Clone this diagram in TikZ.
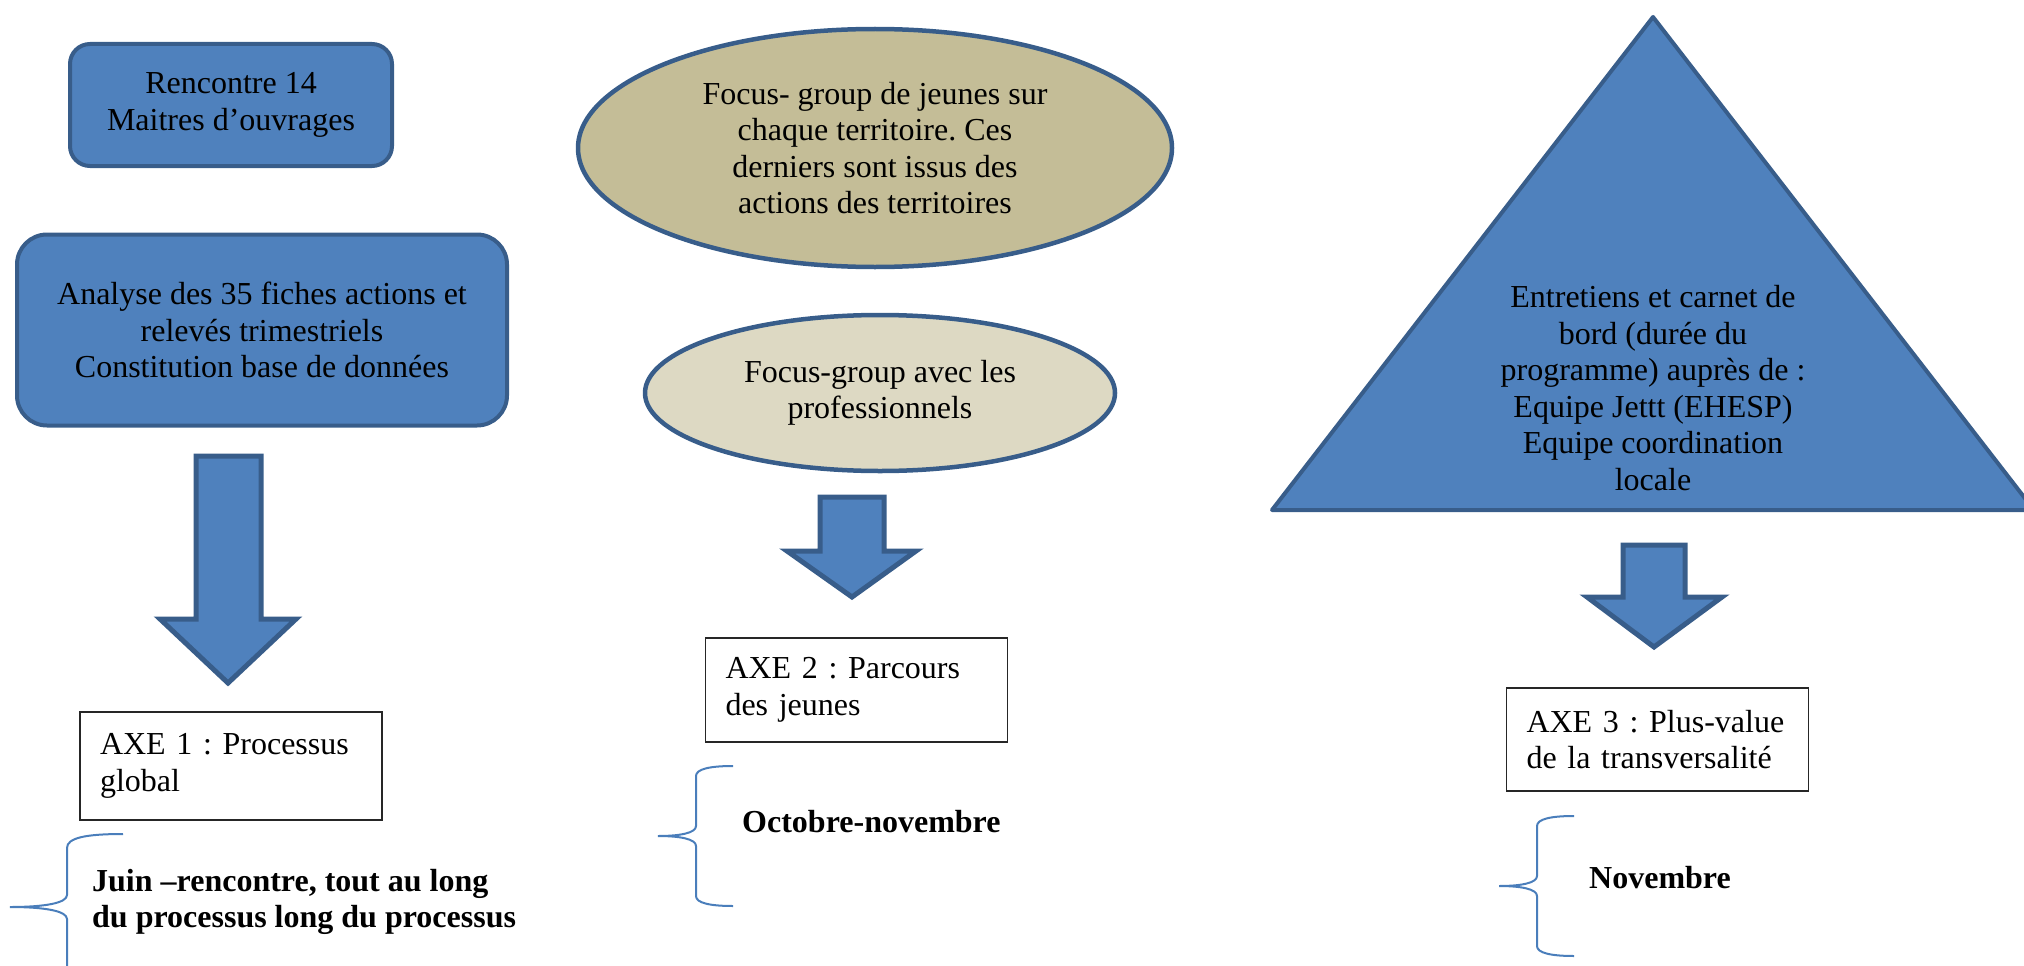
\documentclass[tikz,border=0pt]{standalone}
\usepackage{fontspec}
\setmainfont{Liberation Serif}
\usetikzlibrary{shapes.geometric}
\definecolor{bfill}{HTML}{4F81BD}
\definecolor{bdraw}{HTML}{385D8A}
\definecolor{tanA}{HTML}{C4BD97}
\definecolor{tanB}{HTML}{DDD9C3}
\definecolor{brc}{HTML}{4A7EBB}
\frenchspacing
\begin{document}
\begin{tikzpicture}[x=1pt,y=-1pt,
  every node/.style={font=\fontsize{32}{36.5}\selectfont},
  bluebox/.style={draw=bdraw, fill=bfill, line width=4pt, rounded corners=#1, align=center, inner sep=0pt},
  ovalbox/.style={ellipse, draw=bdraw, line width=4.5pt, align=center, inner sep=0pt},
  blockarrow/.style={draw=bdraw, fill=bfill, line width=5pt, line join=miter},
  axebox/.style={draw=black!85, line width=1.5pt, align=left, inner xsep=20pt, inner ysep=0pt, text width=262pt, minimum height=#1},
  bracestyle/.style={draw=brc, line width=2pt},
  datetext/.style={font=\fontsize{32}{36.5}\selectfont\bfseries, align=left, inner sep=0pt, anchor=west}
]
\useasboundingbox (0,0) rectangle (2024,966);
\clip (0,0) rectangle (2024,966);

% column 1
\node[bluebox=20pt, minimum width=322pt, minimum height=122pt] (r1) at (231,105) {Rencontre 14\\Maitres d’ouvrages};
\node[bluebox=30pt, minimum width=490pt, minimum height=191pt] (r2) at (262,330) {Analyse des 35 fiches actions et\\relevés trimestriels\\Constitution base de données};
\draw[blockarrow] (196,456) -- (261,456) -- (261,619) -- (296,619) -- (228,683) -- (160,619) -- (196,619) -- cycle;
\node[axebox=108pt] (a1) at (231,766) {AXE 1 : Processus\\global};
\draw[bracestyle] (123,834) .. controls (85,834) and (67,838) .. (67,848) -- (67,895) .. controls (67,903) and (45,907) .. (10,907) .. controls (45,907) and (67,911) .. (67,919) -- (67,966) .. controls (67,976) and (85,980) .. (123,980);
\node[datetext] (d1) at (92,902) {Juin –rencontre, tout au long\\du processus long du processus};

% column 2
\node[ovalbox, fill=tanA, minimum width=594pt, minimum height=238pt] (e1) at (875,148) {Focus- group de jeunes sur\\chaque territoire. Ces\\derniers sont issus des\\actions des territoires};
\node[ovalbox, fill=tanB, minimum width=470pt, minimum height=156pt] (e2) at (880,393) {Focus-group avec les\\professionnels};
\draw[blockarrow] (820,497) -- (884,497) -- (884,551) -- (916,551) -- (852,597) -- (787,551) -- (820,551) -- cycle;
\node[axebox=104pt] (a2) at (856.5,690) {AXE 2 : Parcours\\des jeunes};
\draw[bracestyle] (733,766) .. controls (710,766) and (696,769) .. (696,776) -- (696,826) .. controls (696,833) and (680,836) .. (658,836) .. controls (680,836) and (696,839) .. (696,846) -- (696,896) .. controls (696,903) and (710,906) .. (733,906);
\node[datetext] (d2) at (742,822) {Octobre-novembre};

% column 3
\draw[draw=bdraw, fill=bfill, line width=4pt, line join=round] (1653,17) -- (2034,510) -- (1272,510) -- cycle;
\node[align=center, inner sep=0pt] (t3) at (1653,388) {Entretiens et carnet de\\bord (durée du\\programme) auprès de :\\Equipe Jettt (EHESP)\\Equipe coordination\\locale};
\draw[blockarrow] (1623,545) -- (1685,545) -- (1685,597) -- (1722,597) -- (1654,647) -- (1587,597) -- (1623,597) -- cycle;
\node[axebox=103pt] (a3) at (1657.5,739.5) {AXE 3 : Plus-value\\de la transversalité};
\draw[bracestyle] (1574,816) .. controls (1551,816) and (1537,819) .. (1537,826) -- (1537,876) .. controls (1537,883) and (1521,886) .. (1499,886) .. controls (1521,886) and (1537,889) .. (1537,896) -- (1537,946) .. controls (1537,953) and (1551,956) .. (1574,956);
\node[datetext] (d3) at (1589,878) {Novembre};
\end{tikzpicture}
\end{document}
